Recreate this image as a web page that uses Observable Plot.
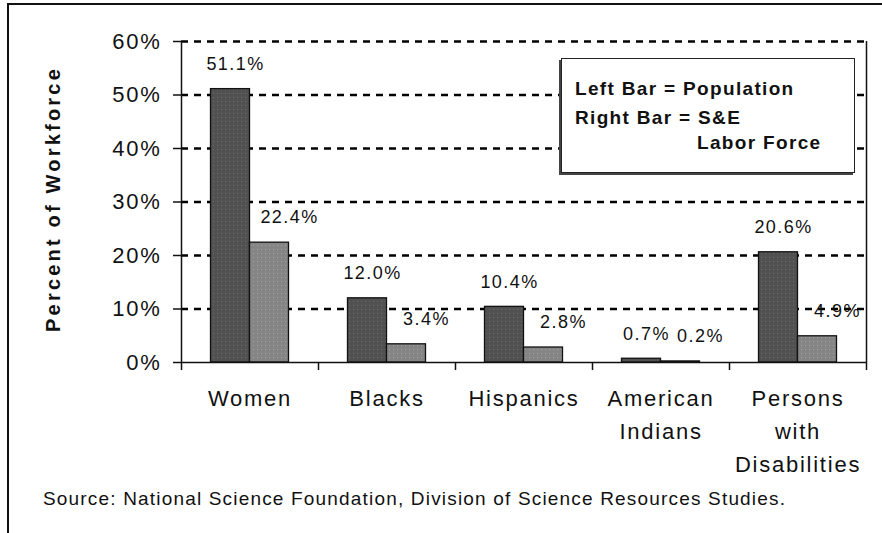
<!DOCTYPE html>
<html><head><meta charset="utf-8">
<script src="https://cdn.jsdelivr.net/npm/d3@7"></script>
<script src="https://cdn.jsdelivr.net/npm/@observablehq/plot@0.6"></script>
<style>
body{margin:0;background:#fff;}
#wrap{position:relative;width:882px;height:533px;overflow:hidden;font-family:"Liberation Sans",Arial,sans-serif;color:#111;}
#wrap text{letter-spacing:0.08em;}
#wrap .ytitle text{letter-spacing:3.2px;}
#chart{position:absolute;left:0;top:0;}
#border{position:absolute;left:7px;top:3px;width:900px;height:600px;border-top:2px solid #111;border-left:2px solid #111;}
#legend{position:absolute;left:561px;top:58px;width:292px;height:113px;border:1.5px solid #222;box-shadow:-2px 2px 0 #444;background:#fff;font-weight:bold;font-size:19px;letter-spacing:0.07em;}
#legend div{position:absolute;white-space:nowrap;line-height:1;}
#source{position:absolute;left:43px;top:489px;font-size:19px;letter-spacing:0.062em;white-space:nowrap;line-height:1;}
</style></head>
<body>
<div id="wrap">
  <div id="border"></div>
  <div id="chart"></div>
  <div id="legend">
    <div style="left:13px;top:20px">Left Bar = Population</div>
    <div style="left:13px;top:49px">Right Bar = S&amp;E</div>
    <div style="left:135px;top:74px">Labor Force</div>
  </div>
  <div id="source">Source: National Science Foundation, Division of Science Resources Studies.</div>
</div>
<script>
const categories = ["Women", "Blacks", "Hispanics", "American Indians", "Persons with Disabilities"];
const tickLabels = ["Women", "Blacks", "Hispanics", "American\nIndians", "Persons\nwith\nDisabilities"];
const population = [51.1, 12.0, 10.4, 0.7, 20.6];
const seLaborForce = [22.4, 3.4, 2.8, 0.2, 4.9];
const yTicks = [0, 10, 20, 30, 40, 50, 60];

const data = categories.map((c, i) => ({category: c, population: population[i], se: seLaborForce[i]}));

const W = 882, H = 533, ML = 181, MR = 16, MT = 41, MB = 171;
const band = (W - ML - MR) / categories.length;
const barW = 39;
const outer = (band - 2 * barW) / 2;
const ink = "#111";

const chart = Plot.plot({
  width: W, height: H,
  marginLeft: ML, marginRight: MR, marginTop: MT, marginBottom: MB,
  x: {type: "band", domain: categories, padding: 0, label: null},
  y: {domain: [0, 60], label: null},
  style: {fontFamily: '"Liberation Sans", Arial, sans-serif', color: ink, background: "transparent", overflow: "visible"},
  marks: [
    Plot.ruleY(yTicks.filter(d => d > 0), {stroke: "#000", strokeWidth: 2.5, strokeDasharray: "7,6"}),
    Plot.barY(data, {x: "category", y: "population", fill: "url(#patDark)", stroke: ink, strokeWidth: 1.3, insetLeft: outer, insetRight: outer + barW}),
    Plot.barY(data, {x: "category", y: "se", fill: "url(#patLight)", stroke: ink, strokeWidth: 1.3, insetLeft: outer + barW, insetRight: outer}),
    Plot.ruleY([0], {stroke: ink, strokeWidth: 1.5}),
    Plot.ruleX([categories[0]], {dx: -band / 2, y1: 60, y2: 0, insetBottom: -8, stroke: ink, strokeWidth: 1.5}),
    Plot.ruleX([categories[categories.length - 1]], {dx: band / 2, y1: 60, y2: 0, insetBottom: -8, stroke: ink, strokeWidth: 1.5}),
    Plot.ruleX(categories.slice(1), {dx: -band / 2, y1: 0, y2: 0, insetBottom: -8, stroke: ink, strokeWidth: 1.5}),
    Plot.text(data, {x: "category", y: "population", text: d => d.population.toFixed(1) + "%", dx: -barW / 2 + 5, dy: -25, fontSize: 18, fill: ink}),
    Plot.text(data, {x: "category", y: "se", text: d => d.se.toFixed(1) + "%", dx: barW / 2 + 20, dy: -25, fontSize: 18, fill: ink}),
    Plot.axisY({ticks: yTicks, tickFormat: d => d + "%", tickSize: 8, tickPadding: 12, fontSize: 22, strokeWidth: 1.5, label: null}),
    Plot.axisX({tickSize: 0, tickPadding: 20, fontSize: 22, lineHeight: 33 / 22, tickFormat: d => tickLabels[categories.indexOf(d)], label: null}),
    Plot.text(["Percent of Workforce"], {frameAnchor: "left", textAnchor: "middle", rotate: -90, dx: -128, dy: -3, fontSize: 20, fontWeight: "bold", fill: ink, className: "ytitle"})
  ]
});

// dotted fill textures for the bars
const svg = d3.select(chart);
const defs = svg.insert("defs", ":first-child");
[["patDark", "#515151", "#6c6c6c"], ["patLight", "#858585", "#a2a2a2"]].forEach(([id, base, dot]) => {
  const p = defs.append("pattern").attr("id", id).attr("patternUnits", "userSpaceOnUse").attr("width", 4).attr("height", 4);
  p.append("rect").attr("width", 4).attr("height", 4).attr("fill", base);
  p.append("rect").attr("x", 1).attr("y", 1).attr("width", 1).attr("height", 1).attr("fill", dot);
});
document.getElementById("chart").appendChild(chart);
</script>
</body></html>
